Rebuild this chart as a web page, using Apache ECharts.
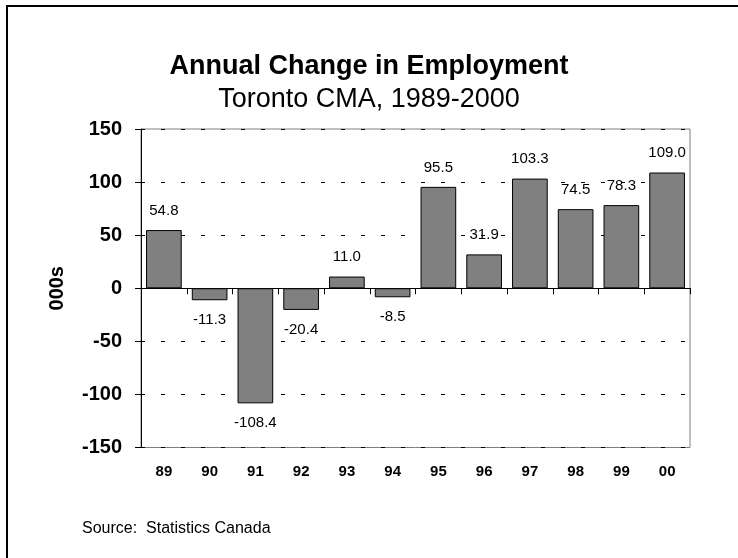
<!DOCTYPE html>
<html>
<head>
<meta charset="utf-8">
<title>Annual Change in Employment</title>
<script src="https://cdn.jsdelivr.net/npm/echarts@6/dist/echarts.min.js"></script>
<style>
  html, body { margin: 0; padding: 0; background: #fff; }
  #chart { width: 738px; height: 558px; }
</style>
</head>
<body>
<div id="chart"></div>
<script>
// Annual change in employment, thousands of jobs
const years = ['89', '90', '91', '92', '93', '94', '95', '96', '97', '98', '99', '00'];
const changes = [54.8, -11.3, -108.4, -20.4, 11.0, -8.5, 95.5, 31.9, 103.3, 74.5, 78.3, 109.0];
const yTicks = { min: -150, max: 150, step: 50 };

const FONT = '"Liberation Sans", Arial, Helvetica, sans-serif';

const chart = echarts.init(document.getElementById('chart'), null, { renderer: 'canvas' });

// negative bars carry their value label below the bar end
const barData = changes.map(v => ({
  value: v,
  label: { position: v < 0 ? 'bottom' : 'top' }
}));

chart.setOption({
  animation: false,
  backgroundColor: '#ffffff',
  textStyle: { fontFamily: FONT },
  title: [
    {
      text: 'Annual Change in Employment',
      left: 'center',
      top: 48,
      textStyle: { fontFamily: FONT, fontSize: 27, fontWeight: 'bold', color: '#000' }
    },
    {
      text: 'Toronto CMA, 1989-2000',
      left: 'center',
      top: 81,
      textStyle: { fontFamily: FONT, fontSize: 27, fontWeight: 'normal', color: '#000' }
    }
  ],
  grid: {
    left: 141,
    right: 48,
    top: 129,
    height: 318.5,
    show: true,
    borderColor: '#808080',
    borderWidth: 1,
    backgroundColor: 'transparent'
  },
  xAxis: [
    {
      // zero line with boundary ticks
      type: 'category',
      data: years,
      axisLine: { onZero: true, lineStyle: { color: '#000', width: 1 } },
      axisTick: { show: true, length: 6, lineStyle: { color: '#000' } },
      axisLabel: { show: false },
      splitLine: { show: false }
    },
    {
      // year labels along the bottom edge
      type: 'category',
      data: years,
      position: 'bottom',
      axisLine: { show: false, onZero: false },
      axisTick: { show: false },
      axisLabel: {
        margin: 17,
        fontFamily: FONT,
        fontSize: 15,
        fontWeight: 'bold',
        color: '#000'
      },
      splitLine: { show: false }
    }
  ],
  yAxis: {
    type: 'value',
    min: yTicks.min,
    max: yTicks.max,
    interval: yTicks.step,
    name: '000s',
    nameLocation: 'middle',
    nameRotate: 90,
    nameGap: 74,
    nameTextStyle: { fontFamily: FONT, fontSize: 20, fontWeight: 'bold', color: '#000' },
    axisLine: { show: true, lineStyle: { color: '#000', width: 1 } },
    axisTick: { show: true, length: 6, lineStyle: { color: '#000' } },
    axisLabel: {
      margin: 19,
      fontFamily: FONT,
      fontSize: 20,
      fontWeight: 'bold',
      color: '#000'
    },
    splitLine: {
      show: true,
      lineStyle: { color: '#000', width: 1, type: [4, 16] }
    }
  },
  series: [
    {
      type: 'bar',
      xAxisIndex: 0,
      data: barData,
      barCategoryGap: '22%',
      itemStyle: { color: '#808080', borderColor: '#000', borderWidth: 1 },
      label: {
        show: true,
        distance: 12,
        fontFamily: FONT,
        fontSize: 15,
        color: '#000',
        formatter: p => p.value.toFixed(1)
      }
    }
  ],
  graphic: [
    {
      // outer frame
      type: 'rect',
      shape: { x: 7, y: 6, width: 800, height: 800 },
      style: { fill: 'none', stroke: '#000', lineWidth: 2 },
      silent: true
    },
    {
      type: 'text',
      left: 82,
      top: 521,
      style: {
        text: 'Source:  Statistics Canada',
        font: '16px ' + FONT,
        fill: '#000'
      }
    }
  ]
});
</script>
</body>
</html>
